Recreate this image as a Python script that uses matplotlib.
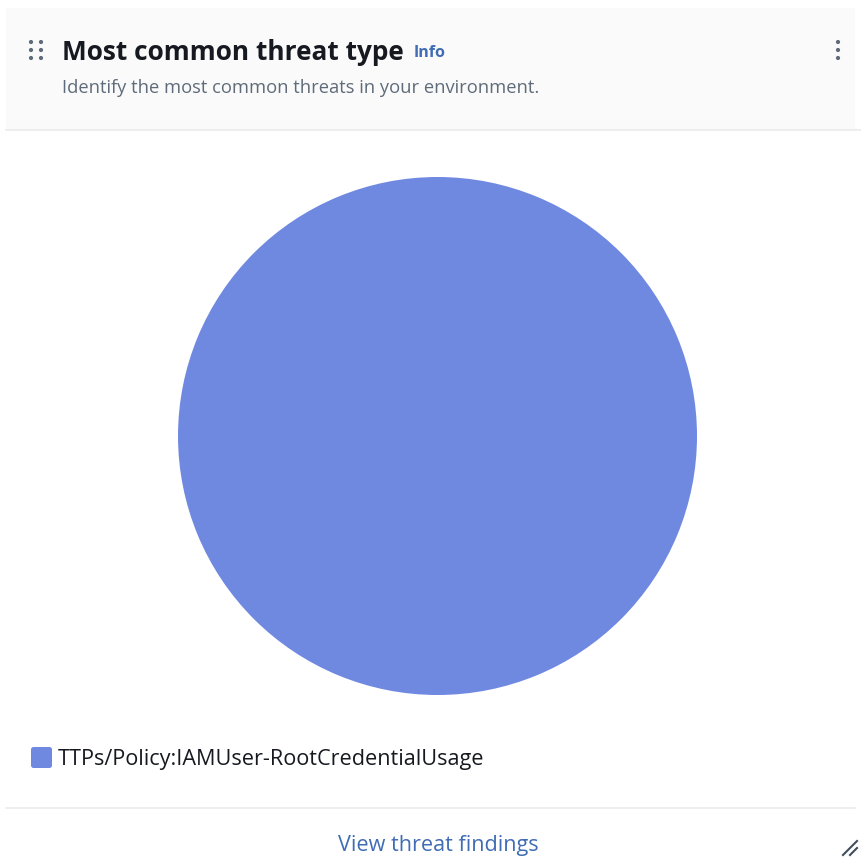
import matplotlib
matplotlib.use("Agg")
import matplotlib.pyplot as plt
from matplotlib.patches import Rectangle, Circle, FancyBboxPatch
from matplotlib.lines import Line2D

# data
categories = ["TTPs/Policy:IAMUser-RootCredentialUsage"]
counts = [1]
colors = ["#6f89e0"]

title = "Most common threat type"
subtitle = "Identify the most common threats in your environment."
footer_link = "View threat findings"

W, H = 861, 857
fig = plt.figure(figsize=(W / 100, H / 100), dpi=100)
fig.patch.set_facecolor("white")
plt.rcParams["font.family"] = ["Open Sans", "DejaVu Sans"]


def fx(x):
    return x / W


def fy(y):
    # y measured from the top in pixels
    return 1 - y / H


# header band
fig.patches.append(Rectangle((fx(6), fy(130)), fx(855) - fx(6), fy(8) - fy(130),
                             transform=fig.transFigure, facecolor="#fafafa",
                             edgecolor="none", zorder=0))
fig.add_artist(Line2D([fx(6), fx(861)], [fy(130), fy(130)], color="#e9ebed", lw=1.2))
fig.add_artist(Line2D([fx(6), fx(855)], [fy(808), fy(808)], color="#e9ebed", lw=1.2))

# drag handle dots
for cx in (31, 41):
    for cy in (42, 50, 58):
        fig.patches.append(Circle((fx(cx), fy(cy)), 2.1 / W, transform=fig.transFigure,
                                  facecolor="#5f6b7a", edgecolor="none"))
# kebab menu
for cy in (42, 50, 58):
    fig.patches.append(Circle((fx(838), fy(cy)), 2.1 / W, transform=fig.transFigure,
                              facecolor="#5f6b7a", edgecolor="none"))

fig.text(fx(62), fy(52), title, fontsize=18.9, fontweight="bold", color="#16191f",
         va="center", ha="left")
fig.text(fx(414), fy(53), "Info", fontsize=11.5, fontweight="bold", color="#3f6cb4",
         va="center", ha="left")
fig.text(fx(62), fy(88), subtitle, fontsize=13.2, color="#5f6b7a", va="center", ha="left")

# pie
ax = fig.add_axes([fx(178), fy(695), fx(697) - fx(178), fy(177) - fy(695)])
ax.pie(counts, colors=colors, radius=1, startangle=90, counterclock=False,
       wedgeprops=dict(linewidth=0))
ax.set_xlim(-1, 1)
ax.set_ylim(-1, 1)
ax.set_aspect("auto")
ax.axis("off")

# legend
fig.patches.append(FancyBboxPatch((fx(31), fy(768)), fx(52) - fx(31), fy(747) - fy(768),
                                  boxstyle="round,pad=0,rounding_size=0.003",
                                  transform=fig.transFigure, facecolor=colors[0],
                                  edgecolor="none"))
fig.text(fx(58), fy(759), categories[0], fontsize=15.6, color="#16191f",
         va="center", ha="left")

# footer
fig.text(fx(438), fy(846), footer_link, fontsize=15.6, color="#3f6cb4",
         va="center", ha="center")
fig.add_artist(Line2D([fx(843), fx(857)], [fy(855), fy(841)], color="#414d5c", lw=1.5))
fig.add_artist(Line2D([fx(850), fx(857)], [fy(855), fy(848)], color="#414d5c", lw=1.5))

fig.savefig("out.png", dpi=100)
